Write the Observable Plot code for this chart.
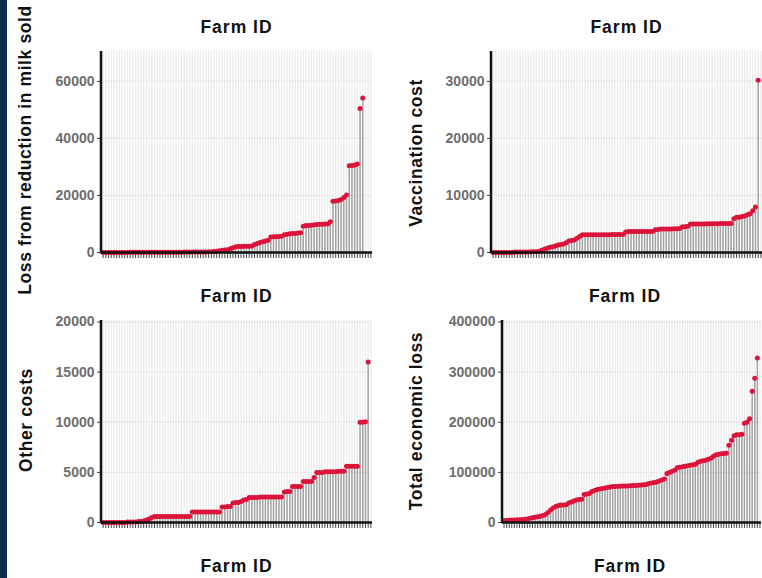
<!DOCTYPE html>
<html><head><meta charset="utf-8">
<script src="https://cdn.jsdelivr.net/npm/d3@7"></script>
<script src="https://cdn.jsdelivr.net/npm/@observablehq/plot@0.6"></script>
<style>
body{margin:0;background:#fff;}
#wrap{position:relative;width:762px;height:578px;overflow:hidden;background:#fff;font-family:"Liberation Sans",Arial,sans-serif;}
.strip{position:absolute;left:0;top:0;width:7px;height:578px;background:#0b2b4f;z-index:5;}
.panel{position:absolute;width:381px;height:290px;}
.panel svg{max-width:none !important;}
.panel svg text{font-weight:bold;fill:#6e6e6e;}
.t{position:absolute;font-weight:bold;font-size:17.5px;letter-spacing:1px;color:#111;white-space:nowrap;transform:translate(-50%,-50%);}
.yl{position:absolute;font-weight:bold;font-size:17.5px;letter-spacing:0.6px;color:#111;white-space:nowrap;transform:translate(-50%,-50%) rotate(-90deg);}
</style>
</head><body>
<div id="wrap"><div class="strip"></div></div>
<script>
// ---- data ----
const nFarms = 100;
const farmIds = d3.range(1, nFarms + 1);

const milkLoss = [0,0,0,0,0,0,0,0,0,0, 50,50,50,50,50,50,50,50,50,50,
  100,100,100,100,100,100,100,100,100,100, 150,150,150,150,150,150, 200,200,200,250,300,350,
  450,600,750,900,1000,1300,
  1700,2000,2100,2100,2200,2200,2200,2300,
  2800,3200,3500,3800,4000,4300,
  5400,5500,5500,5600,5700,
  6200,6400,6600,6700,
  6700,6800,6900,
  9200,9500,9500,9600,9700,9800,9900,9900,10000,10000,
  10800,
  18000,18100,18200,18600,19300,20200,
  30400,30500,30700,31000,
  50500,54200];

const vaccCost = [0,0,0,0,0,0,0,0,100,100,100,100,100,100,150,150,150,200,
  400,600,750,900,1000,1150,1300,1400,1500,1700,2000,2100,2200,2500,2800,3100,
  3100,3100,3100,3100,3100,3100,3100,3100,3100,3100,3150,3150,3150,3150,3150,
  3600,3700,3700,3700,3700,3700,3700,3700,3700,3700,3700,
  4000,4050,4100,4100,4100,4100,4100,4150,4150,4200,
  4500,4500,4600,
  5000,5000,5000,5000,5000,5000,5050,5050,5050,5050,5050,5100,5100,5100,5100,5100,
  5900,6200,
  6200,6300,6400,6600,6800,
  7300,8000,
  30200];

const otherCosts = [0,0,0,0,0,0,0,0,0,50,50,50,50,100,
  100,150,250,350,500,
  600,600,600,600,600,600,600,600,600,600,600,600,600,600,
  1050,1050,1050,1050,1050,1050,1050,1050,1050,1050,1050,
  1550,1550,1600,1600,
  1950,2000,2000,2100,2250,2300,
  2500,2500,2500,2500,2550,2550,2550,2550,2550,2550,2550,2550,2550,
  3050,3100,3100,
  3600,3600,3600,3600,
  4100,4100,4100,4100,4500,
  5000,5000,5000,5050,5050,5050,5050,5050,5100,5100,5100,
  5600,5600,5600,5600,5600,
  10000,10000,10050,
  16000];

const totalLoss = [4000,4200,4500,4800,5000,5300,5600,6000,6500,7000,
  8500,9500,10500,11500,12500,14000,16000,
  20000,25000,29000,32000,
  34000,35000,35000,35500,
  39000,41000,43000,45000,46000,46500,
  56000,57000,58000,
  62000,64000,66000,67000,68000,69000,70000,
  71000,72000,72000,72500,72500,73000,73000,
  73000,73500,74000,74000,74500,75000,75500,76000,
  78000,79000,80000,81000,83000,85000,87000,
  98000,100000,102000,104000,
  109000,110000,111000,112000,113000,114000,115000,116000,
  120000,122000,123000,124000,126000,
  128000,132000,135000,136000,137000,137500,138000,
  154000,
  164000,
  173000,175000,175000,176000,
  198000,200000,
  207000,
  262000,
  288000,
  328000];

const yLabels = ["Loss from reduction in milk sold", "Vaccination cost", "Other costs", "Total economic loss"];
const xLabel = "Farm ID";
const milkTicks = [0, 20000, 40000, 60000];
const vaccTicks = [0, 10000, 20000, 30000];
const otherTicks = [0, 5000, 10000, 15000, 20000];
const totalTicks = [0, 100000, 200000, 300000, 400000];

// ---- drawing ----
const wrap = document.getElementById("wrap");

function leftAxisLine(index, scales, values, dim) {
  const l = document.createElementNS("http://www.w3.org/2000/svg", "line");
  l.setAttribute("x1", dim.marginLeft);
  l.setAttribute("x2", dim.marginLeft);
  l.setAttribute("y1", dim.marginTop);
  l.setAttribute("y2", dim.height - dim.marginBottom + 1.2);
  l.setAttribute("stroke", "#111");
  l.setAttribute("stroke-width", 2.5);
  return l;
}

function panel(values, ticks, ymax, pos) {
  const data = values.map((v, i) => ({farm: farmIds[i], v}));
  const p = Plot.plot({
    width: 381, height: 290,
    marginLeft: pos.ml, marginRight: pos.mr, marginTop: pos.mt, marginBottom: pos.mb,
    style: {fontFamily: "Liberation Sans, Arial, sans-serif", fontSize: "14px", color: "#444", background: "transparent", overflow: "visible"},
    x: {type: "point", domain: farmIds, padding: 0.6, tickSize: 6, tickFormat: () => "", label: null},
    y: {domain: [0, ymax], ticks: ticks, tickSize: 4, tickPadding: 3, label: null, tickFormat: d => String(d)},
    marks: [
      Plot.ruleX(farmIds, {stroke: "#ebebeb", strokeWidth: 1.3}),
      Plot.ruleY(ticks, {stroke: "#ebebeb", strokeWidth: 1.3}),
      Plot.ruleX(data, {x: "farm", y1: 0, y2: "v", stroke: "#a3a3a3", strokeWidth: 1.5}),
      Plot.dot(data, {x: "farm", y: "v", r: 2.5, fill: "#dc143c", stroke: "none"}),
      Plot.ruleY([0], {stroke: "#111", strokeWidth: 2.5}),
      leftAxisLine
    ]
  });
  const d = document.createElement("div");
  d.className = "panel";
  d.style.left = pos.left + "px";
  d.style.top = pos.top + "px";
  d.appendChild(p);
  wrap.appendChild(d);
}

panel(milkLoss, milkTicks, 70500, {left: 0, top: 0, ml: 101, mr: 9, mt: 51, mb: 38});
panel(vaccCost, vaccTicks, 35250, {left: 390, top: 0, ml: 101, mr: 9, mt: 51, mb: 38});
panel(otherCosts, otherTicks, 20150, {left: 0, top: 285, ml: 101, mr: 9, mt: 35, mb: 53});
panel(totalLoss, totalTicks, 403000, {left: 390, top: 285, ml: 112, mr: 10, mt: 35, mb: 53});

function addText(cls, txt, x, y) {
  const e = document.createElement("div");
  e.className = cls;
  e.textContent = txt;
  e.style.left = x + "px";
  e.style.top = y + "px";
  wrap.appendChild(e);
}
[[236.5, 27], [626.5, 27], [236.5, 296], [625, 296], [236.5, 566], [630, 566]].forEach(([x, y]) => addText("t", xLabel, x, y));
addText("yl", yLabels[0], 25, 150);
addText("yl", yLabels[1], 416, 153);
addText("yl", yLabels[2], 26, 420);
addText("yl", yLabels[3], 416, 421);
</script>
</body></html>
